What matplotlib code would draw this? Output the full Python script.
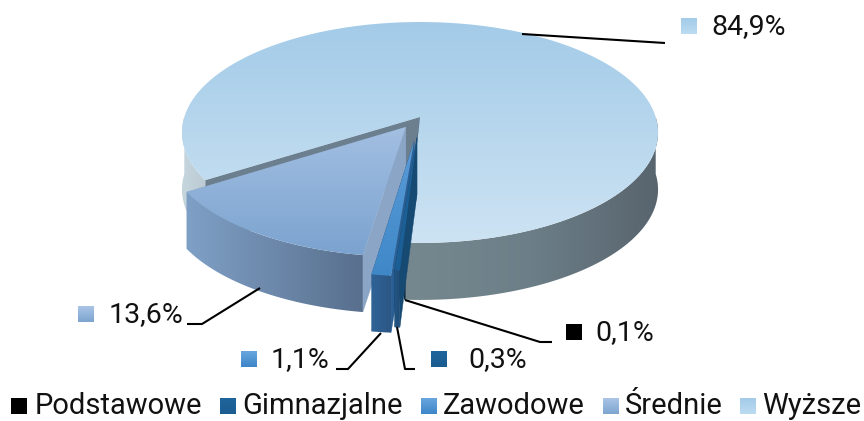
import numpy as np
import matplotlib
matplotlib.use('Agg')
import matplotlib.pyplot as plt
from matplotlib.colors import LinearSegmentedColormap
from matplotlib.patches import Polygon

plt.rcParams['font.family'] = ['Roboto', 'DejaVu Sans']

categories = ['Podstawowe', 'Gimnazjalne', 'Zawodowe', 'Średnie', 'Wyższe']
shares = [0.1, 0.3, 1.1, 13.6, 84.9]
explode = [0.0, 0.185, 0.22, 0.11, 0.0]

# gradients: top surface (up -> down), outer wall left of the pie / right of it, inner wall
top_colors = [['#0b2f4c', '#0b2f4c'], ['#1d6299', '#1b5f96'], ['#5a9bd8', '#3f88c8'],
              ['#a3bfe2', '#7ba3cf'], ['#a3cbe8', '#cde3f3']]
wall_left = [['#0d2a40', '#0a2030'], ['#245583', '#1d4a74'], ['#2f6396', '#2c5684'],
             ['#7fa0c6', '#586f8d'], ['#c6d6de', '#bccbd3']]
wall_right = [['#0d2a40', '#0a2030'], ['#245583', '#1d4a74'], ['#2f6396', '#2c5684'],
              ['#7fa0c6', '#586f8d'], ['#76888f', '#6c7e87', '#58646e']]
inner_colors = [None, '#174a73', '#2b5f93', '#8ba5c6', '#6c7f8e']
marker_colors = [['#000000', '#000000'], ['#1f659c', '#1b5c90'], ['#69a6de', '#3c86c8'],
                 ['#abc5e6', '#7ca4d0'], ['#a3cbe8', '#bcdcf2']]

# where the labels and their leader lines sit
label_xy = [(595, 333), (468, 360), (271, 360), (109, 315), (711, 27)]
label_marker_x = [566, 431, 241, 78, 681]
leaders = [[(405, 300), (540, 342), (552, 342)],
           [(397, 327), (405, 369), (415, 369)],
           [(381, 333), (348, 369), (336, 369)],
           [(260, 288), (202, 324), (187, 324)],
           [(522, 34), (665, 43)]]
legend_marker_x = [11, 220, 421, 603, 740]
legend_text_x = [35, 242, 443, 625, 762]

# pie geometry, pixels
cx, cy = 420, 117
rx, ry = 235.7, 108.3
persp = 0.14
depth = 57
start = 3.0

fig = plt.figure(figsize=(8.64, 4.21), dpi=100)
ax = fig.add_axes([0, 0, 1, 1])


def project(theta, r, eu, ev):
    t = np.radians(theta)
    u = -np.sin(t) * r + eu
    v = np.cos(t) * r + ev
    s = 1 / (1 - persp * v)
    return np.column_stack([cx + rx * u * s, cy + ry * v * s])


def grad(verts, stops, vertical=False, z=1):
    verts = np.asarray(verts)
    cmap = LinearSegmentedColormap.from_list('g', stops)
    g = np.linspace(0, 1, 256)
    img = g.reshape(-1, 1) if vertical else g.reshape(1, -1)
    x0, y0 = verts.min(axis=0)
    x1, y1 = verts.max(axis=0)
    im = ax.imshow(img, cmap=cmap, extent=[x0, x1, y1, y0], origin='upper',
                   aspect='auto', zorder=z, interpolation='bilinear')
    im.set_clip_path(Polygon(verts, closed=True, transform=ax.transData))


def draw_slice(a0, a1, e, top, left, right, inner, z):
    mid = np.radians((a0 + a1) / 2)
    eu, ev = -np.sin(mid) * e, np.cos(mid) * e
    apex = project(0, 0, eu, ev)
    down = np.array([0, depth])
    # inner walls first
    if inner:
        for a in (a0, a1):
            rim = project(a, 1, eu, ev)
            q = np.vstack([apex, rim, rim + down, apex + down])
            ax.add_patch(Polygon(q, closed=True, fc=inner, ec=inner, lw=0.3, zorder=z))
    # outer wall, front half only
    for lo, hi, stops in ((-90, 90, left), (270, 450, right)):
        b0, b1 = max(a0, lo), min(a1, hi)
        if b1 <= b0:
            continue
        arc = project(np.linspace(b0, b1, 120), 1, eu, ev)
        grad(np.vstack([arc, arc[::-1] + down]), stops, z=z + 0.1)
    # top
    arc = project(np.linspace(a0, a1, 400), 1, eu, ev)
    grad(np.vstack([apex, arc]), top, vertical=True, z=z + 0.2)


edges = start + np.concatenate([[0], np.cumsum(shares)]) * 3.6
order = [4, 0, 3, 2, 1]
for n, i in enumerate(order):
    draw_slice(edges[i], edges[i + 1], explode[i], top_colors[i], wall_left[i],
               wall_right[i], inner_colors[i], z=2 + n)

for i in range(len(shares)):
    xs, ys = zip(*leaders[i])
    ax.plot(xs, ys, color='black', lw=1.5, zorder=10, solid_capstyle='butt')
    ax.text(label_xy[i][0], label_xy[i][1], f'{shares[i]:.1f}%'.replace('.', ','),
            fontsize=20.5, va='center', ha='left', color='#111111', zorder=11)
    mx, my = label_marker_x[i], label_xy[i][1] - 1
    grad([(mx, my - 8), (mx + 16, my - 8), (mx + 16, my + 8), (mx, my + 8)],
         marker_colors[i], vertical=True, z=11)
    lx = legend_marker_x[i]
    grad([(lx, 398), (lx + 16, 398), (lx + 16, 414), (lx, 414)],
         marker_colors[i], vertical=True, z=11)
    ax.text(legend_text_x[i], 405.5, categories[i], fontsize=21, va='center', ha='left',
            color='#111111', zorder=11)

ax.set_xlim(0, 864)
ax.set_ylim(421, 0)
ax.axis('off')
fig.savefig('out.png', dpi=100)
